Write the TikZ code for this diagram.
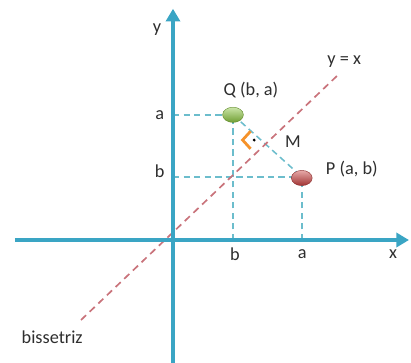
\documentclass[tikz,border=0pt]{standalone}
\usepackage{fontspec}
\setmainfont{Carlito}
\usetikzlibrary{arrows.meta, calc, shapes.geometric}
\definecolor{axisBlue}{HTML}{3AA5C4}
\definecolor{guideBlue}{HTML}{6CBDCC}
\definecolor{bisRed}{HTML}{C9737B}
\definecolor{markOrange}{HTML}{F5922A}
\definecolor{ballGreen}{HTML}{8CC63F}
\definecolor{ballRed}{HTML}{C8403F}
\definecolor{txtGray}{HTML}{2E2E2E}
\tikzset{
  axis/.style={draw=axisBlue, line width=3.4pt, -{Triangle[length=9pt, width=10pt]}},
  guide/.style={draw=guideBlue, line width=1.1pt, dash pattern=on 4.5pt off 3pt},
  bisline/.style={draw=bisRed, line width=1.2pt, dash pattern=on 5pt off 3.5pt},
  lbl/.style={text=txtGray, font=\fontsize{13}{15}\selectfont, inner sep=1pt},
  ball/.style={ellipse, minimum width=0.52cm, minimum height=0.38cm, inner sep=0pt,
               top color=#1!45!white, bottom color=#1!80!black, draw=#1!70!black, line width=0.3pt},
}

\begin{document}
\begin{tikzpicture}
\useasboundingbox (-4.325,-3.05) rectangle (5.95,6.0);
\coordinate (O) at (0,0);
\coordinate (xs) at (-3.95,0);
\coordinate (xe) at (5.9,0);
\coordinate (ys) at (0,-3.1);
\coordinate (ye) at (0,5.78);
\coordinate (Qc) at (1.5,3.13);
\coordinate (Pc) at (3.22,1.58);
\coordinate (Qa) at (0,3.13);
\coordinate (Pb) at (0,1.58);
\coordinate (Qx) at (1.5,0);
\coordinate (Px) at (3.22,0);
\coordinate (bl) at (-2.3,-2.0);
\coordinate (bu) at (4.15,4.15);
\coordinate (M) at (2.36,2.36);
% guide lines
\draw[guide] (Qa) -- (Qc);
\draw[guide] (Pb) -- (Pc);
\draw[guide] (Qx) -- (Qc);
\draw[guide] (Px) -- (Pc);
\draw[guide] (Qc) -- (Pc);
% bisector
\draw[bisline] (bl) -- (bu);
% axes
\draw[axis] (xs) -- (xe);
\draw[axis] (ys) -- (ye);
% right angle mark
\draw[markOrange, line width=2pt] ($(M)+(-0.42,0.36)$) -- ($(M)+(-0.62,0.14)$) -- ($(M)+(-0.42,-0.08)$);
\fill[black] ($(M)+(-0.33,0.14)$) circle (1.1pt);
% points
\node[ball=ballGreen] (Q) at (Qc) {};
\node[ball=ballRed] (P) at ($(Pc)+(0,-0.03)$) {};
% labels
\node[lbl] (ylab) at (-0.4,5.25) {y};
\node[lbl] (xlab) at (5.5,-0.35) {x};
\node[lbl] (bislab) at (4.28,4.45) {y = x};
\node[lbl] (qlab) at (1.95,3.75) {Q (b, a)};
\node[lbl] (plab) at (4.47,1.78) {P (a, b)};
\node[lbl] (mlab) at (3.0,2.45) {M};
\node[lbl] (ay) at (-0.33,3.13) {a};
\node[lbl] (by) at (-0.33,1.72) {b};
\node[lbl] (bx) at (1.55,-0.35) {b};
\node[lbl] (ax) at (3.23,-0.35) {a};
\node[lbl] (bistxt) at (-3.02,-2.42) {bissetriz};
\end{tikzpicture}
\end{document}
